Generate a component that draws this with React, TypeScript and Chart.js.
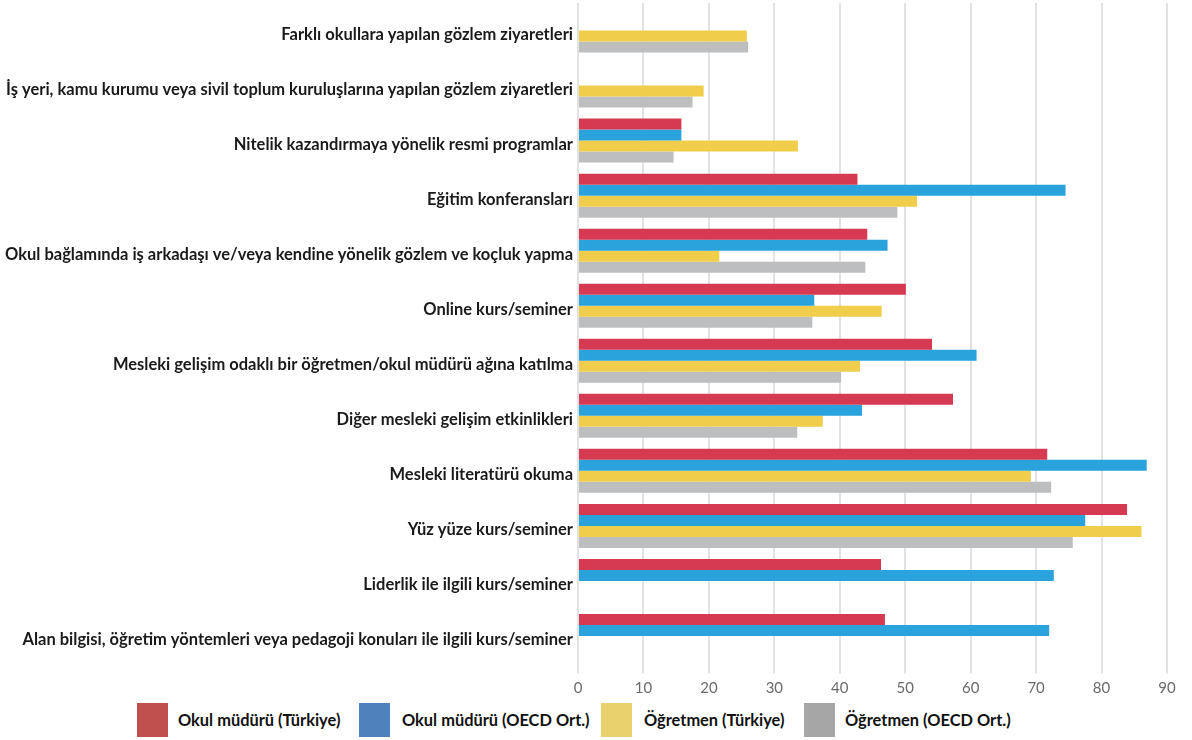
import React, { useEffect, useRef } from "react";
import { Chart, registerables } from "chart.js";

Chart.register(...registerables);

const categories = [
  "Farklı okullara yapılan gözlem ziyaretleri",
  "İş yeri, kamu kurumu veya sivil toplum kuruluşlarına yapılan gözlem ziyaretleri",
  "Nitelik kazandırmaya yönelik resmi programlar",
  "Eğitim konferansları",
  "Okul bağlamında iş arkadaşı ve/veya kendine yönelik gözlem ve koçluk yapma",
  "Online kurs/seminer",
  "Mesleki gelişim odaklı bir öğretmen/okul müdürü ağına katılma",
  "Diğer mesleki gelişim etkinlikleri",
  "Mesleki literatürü okuma",
  "Yüz yüze kurs/seminer",
  "Liderlik ile ilgili kurs/seminer",
  "Alan bilgisi, öğretim yöntemleri veya pedagoji konuları ile ilgili kurs/seminer",
];

const seriesNames = [
  "Okul müdürü (Türkiye)",
  "Okul müdürü (OECD Ort.)",
  "Öğretmen (Türkiye)",
  "Öğretmen (OECD Ort.)",
];

const mudurTurkiye = [null, null, 15.8, 42.7, 44.2, 50.1, 54.1, 57.3, 71.7, 83.9, 46.3, 46.9];
const mudurOecd = [null, null, 15.8, 74.5, 47.3, 36.1, 60.9, 43.4, 86.9, 77.5, 72.7, 72.0];
const ogretmenTurkiye = [25.8, 19.2, 33.6, 51.8, 21.6, 46.4, 43.1, 37.4, 69.2, 86.1, null, null];
const ogretmenOecd = [26.0, 17.5, 14.6, 48.8, 43.9, 35.8, 40.2, 33.5, 72.3, 75.6, null, null];

const xTicks = [0, 10, 20, 30, 40, 50, 60, 70, 80, 90];

const barColors = ["#D63A53", "#2AA2DC", "#F0CD4A", "#BDBEC0"];
const legendColors = ["#C0504D", "#4F81BD", "#E8D06C", "#A6A6A6"];

const legendBoxLeft = [137, 359, 601, 804];
const legendTextLeft = [178, 402, 644, 845];

export default function App() {
  const canvasRef = useRef<HTMLCanvasElement | null>(null);

  useEffect(() => {
    const canvas = canvasRef.current;
    if (!canvas) return;
    const values = [mudurTurkiye, mudurOecd, ogretmenTurkiye, ogretmenOecd];
    const chart = new Chart(canvas, {
      type: "bar",
      data: {
        labels: categories,
        datasets: values.map((v, i) => ({
          label: seriesNames[i],
          data: v,
          backgroundColor: barColors[i],
          borderWidth: 0,
          barPercentage: 1,
          categoryPercentage: 0.8,
        })),
      },
      options: {
        indexAxis: "y",
        responsive: false,
        animation: false,
        layout: { padding: { top: 3, right: 25, left: 0, bottom: 0 } },
        plugins: {
          legend: { display: false },
          tooltip: { enabled: false },
        },
        scales: {
          x: {
            min: 0,
            max: 90,
            afterBuildTicks: (scale: any) => {
              scale.ticks = xTicks.map((v) => ({ value: v }));
            },
            afterFit: (scale: any) => {
              scale.height = 36.5;
              scale.paddingLeft = 0;
              scale.paddingRight = 0;
            },
            grid: {
              color: "#e2e2e2",
              lineWidth: 2,
              drawTicks: true,
              tickLength: 10,
            },
            border: { display: false },
            ticks: {
              font: { family: "Lato", size: 15 },
              color: "#6b6b6b",
              padding: 6,
            },
          },
          y: {
            afterFit: (scale: any) => {
              scale.width = 578;
              scale.paddingTop = 0;
              scale.paddingBottom = 0;
            },
            grid: { display: false, drawTicks: false },
            border: { display: false },
            ticks: {
              font: { family: "Lato", size: 16.5, weight: "bold" },
              color: "#1a1a1a",
              padding: 5,
              labelOffset: 4,
              autoSkip: false,
            },
          },
        },
      },
    });
    return () => chart.destroy();
  }, []);

  return (
    <div
      style={{
        position: "absolute",
        left: 0,
        top: 0,
        width: 1192,
        height: 740,
        background: "#ffffff",
        overflow: "hidden",
      }}
    >
      <canvas ref={canvasRef} width={1192} height={700} style={{ display: "block" }} />
      {seriesNames.map((name, i) => (
        <React.Fragment key={name}>
          <div
            style={{
              position: "absolute",
              left: legendBoxLeft[i],
              top: 703,
              width: 31,
              height: 34,
              background: legendColors[i],
            }}
          />
          <div
            style={{
              position: "absolute",
              left: legendTextLeft[i],
              top: 709,
              fontFamily: "Lato",
              fontWeight: "bold",
              fontSize: 16.4,
              color: "#111111",
              whiteSpace: "nowrap",
              lineHeight: "22px",
            }}
          >
            {name}
          </div>
        </React.Fragment>
      ))}
    </div>
  );
}
